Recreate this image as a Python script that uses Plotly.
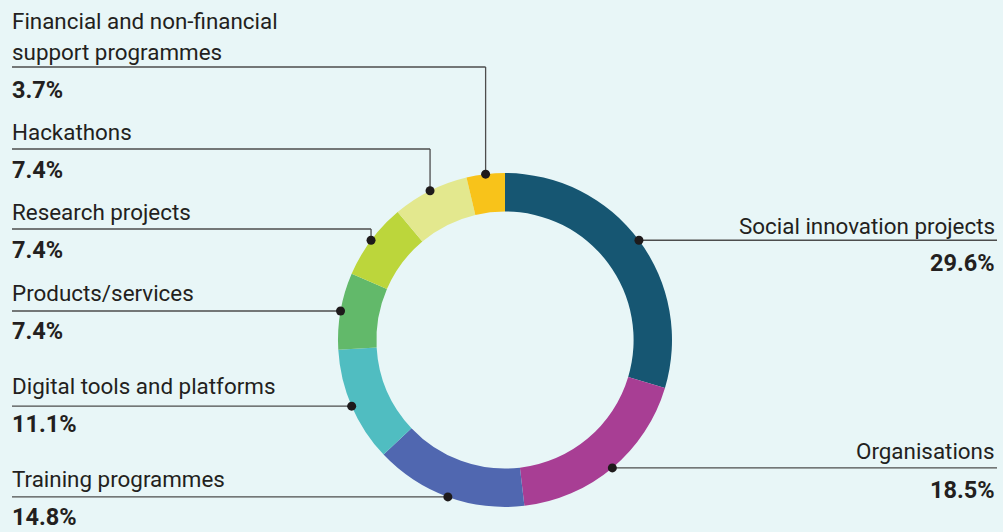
import math
import plotly.graph_objects as go

# Shares of initiatives by type (percent), clockwise from 12 o'clock
categories = [
    "Social innovation projects",
    "Organisations",
    "Training programmes",
    "Digital tools and platforms",
    "Products/services",
    "Research projects",
    "Hackathons",
    "Financial and non-financial support programmes",
]
values = [29.6, 18.5, 14.8, 11.1, 7.4, 7.4, 7.4, 3.7]
value_labels = ["29.6%", "18.5%", "14.8%", "11.1%", "7.4%", "7.4%", "7.4%", "3.7%"]
label_lines = [
    ["Social innovation projects"],
    ["Organisations"],
    ["Training programmes"],
    ["Digital tools and platforms"],
    ["Products/services"],
    ["Research projects"],
    ["Hackathons"],
    ["Financial and non-financial", "support programmes"],
]
colors = ["#165672", "#a83e94", "#5067b0", "#50bdc1", "#62b96a", "#bcd63b", "#e3e88e", "#f8c31a"]

W, H = 1003, 532
BG = "#e8f6f7"
TXT = "#231f20"
LINE = "#4d4d4d"
FONT = "Roboto, sans-serif"

# donut geometry in pixels
CX, CY, R_OUT = 505, 340, 167
HOLE = 0.77


def px(x):
    return x / W


def py(y):
    return 1 - y / H


fig = go.Figure()
fig.add_trace(go.Pie(
    labels=categories,
    values=values,
    sort=False,
    direction="clockwise",
    rotation=0,
    hole=HOLE,
    marker=dict(colors=colors, line=dict(width=0)),
    textinfo="none",
    hoverinfo="label+percent",
    showlegend=False,
    domain=dict(x=[px(CX - R_OUT), px(CX + R_OUT)], y=[py(CY + R_OUT), py(CY - R_OUT)]),
))

# mid-angle anchor point of each slice on the outer edge
total = sum(values)
anchors = []
acc = 0.0
for v in values:
    mid = (acc + v / 2) / total * 2 * math.pi
    anchors.append((CX + R_OUT * math.sin(mid), CY - R_OUT * math.cos(mid)))
    acc += v

shapes = []
annotations = []
LEFT_X, RIGHT_X = 12, 997
LBL_FS, VAL_FS = 22.4, 23.5

# label layout: side, y of the horizontal leader (None = at the anchor), label y centres, value y centre
layout_spec = [
    ("right", None, [226], 263),
    ("right", None, [451], 490),
    ("left", None, [479], 517),
    ("left", None, [386], 424),
    ("left", None, [293], 331),
    ("left", 229, [212], 250),
    ("left", 149, [132], 170),
    ("left", 67, [21, 52], 90),
]

for i, (side, ly, text_ys, val_y) in enumerate(layout_spec):
    ax, ay = anchors[i]
    hy = ay if ly is None else ly
    if side == "right":
        shapes.append(dict(type="line", xref="paper", yref="paper",
                           x0=px(ax), y0=py(hy), x1=px(RIGHT_X), y1=py(hy),
                           line=dict(color=LINE, width=1.3)))
    else:
        shapes.append(dict(type="line", xref="paper", yref="paper",
                           x0=px(LEFT_X), y0=py(hy), x1=px(ax), y1=py(hy),
                           line=dict(color=LINE, width=1.3)))
        if ly is not None:
            shapes.append(dict(type="line", xref="paper", yref="paper",
                               x0=px(ax), y0=py(hy), x1=px(ax), y1=py(ay),
                               line=dict(color=LINE, width=1.3)))
    shapes.append(dict(type="circle", xref="paper", yref="paper",
                       x0=px(ax - 4.5), x1=px(ax + 4.5), y0=py(ay + 4.5), y1=py(ay - 4.5),
                       fillcolor="#1e1a1b", line=dict(width=0)))

    xa = px(RIGHT_X) if side == "right" else px(10)
    anchor = "right" if side == "right" else "left"
    for line_txt, ty in zip(label_lines[i], text_ys):
        annotations.append(dict(xref="paper", yref="paper", x=xa, y=py(ty),
                                xanchor=anchor, yanchor="middle", showarrow=False,
                                text=line_txt, font=dict(family=FONT, size=LBL_FS, color=TXT)))
    annotations.append(dict(xref="paper", yref="paper", x=xa, y=py(val_y),
                            xanchor=anchor, yanchor="middle", showarrow=False,
                            text="<b>" + value_labels[i] + "</b>",
                            font=dict(family=FONT, size=VAL_FS, color=TXT)))

fig.update_layout(
    width=W, height=H,
    margin=dict(l=0, r=0, t=0, b=0),
    paper_bgcolor=BG, plot_bgcolor=BG,
    shapes=shapes, annotations=annotations,
)

fig.write_html("out.html", config={"displayModeBar": False})
